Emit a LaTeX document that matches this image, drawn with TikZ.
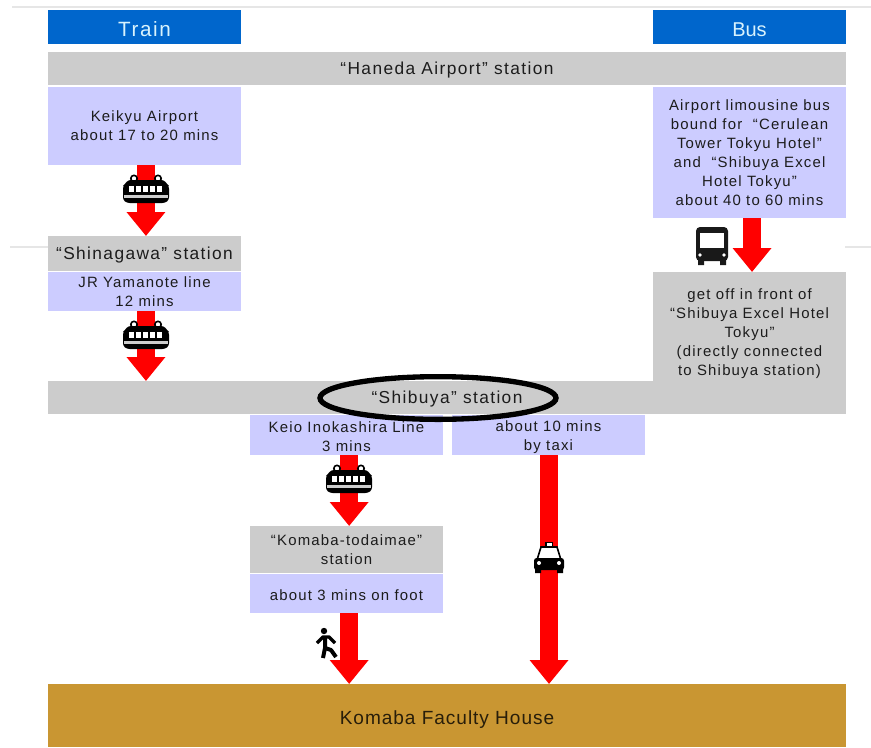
\documentclass[tikz,border=0pt]{standalone}
\usepackage{fontspec}
\setmainfont{Liberation Sans}
\newfontfamily\bodyfont[LetterSpace=8]{Liberation Sans}
\newfontfamily\plainfont[LetterSpace=0]{Liberation Sans}
\newfontfamily\stationfont[LetterSpace=8]{Liberation Sans}
\newfontfamily\housefont[LetterSpace=5]{Liberation Sans}
\usetikzlibrary{arrows.meta,shapes.geometric}
\definecolor{barblue}{HTML}{0066CC}
\definecolor{bargrey}{HTML}{CCCCCC}
\definecolor{lav}{HTML}{CCCCFF}
\definecolor{gold}{HTML}{C99632}
\definecolor{ink}{HTML}{1C1C1C}
\definecolor{rule}{HTML}{E6E6E6}
\newcommand{\dn}{\rule{0pt}{11pt}}
\tikzset{
  x=0.75pt,y=-0.75pt,
  box/.style={anchor=north west,inner sep=0pt,outer sep=0pt,align=center,text=ink},
  sm/.style={font=\bodyfont\fontsize{11.2}{14.25}\selectfont},
  st/.style={font=\stationfont\fontsize{13}{15}\selectfont,text height=11pt,text depth=2pt},
  head/.style={box,fill=barblue,text=white!85!cyan,minimum width=144.75pt,minimum height=25.5pt,text height=14pt,text depth=0pt},
  grey/.style={box,fill=bargrey},
  blue/.style={box,fill=lav,sm},
  wide/.style={minimum width=598.5pt},
  col/.style={minimum width=144.75pt},
  fat/.style={draw=red,line width=13.5pt,-{Triangle[length=18pt,width=28pt]}},
}
\begin{document}
\begin{tikzpicture}
\useasboundingbox (0,0) rectangle (871,747);
\draw[rule,line width=2.2pt] (12,7) -- (871,7);
\draw[rule,line width=1.5pt] (10,247) -- (48,247) (845,247) -- (871,247);
% boxes
\node[head,font=\bodyfont\fontsize{15.5}{18}\selectfont] (train) at (48,10) {Train};
\node[head,font=\plainfont\fontsize{15}{18}\selectfont] (bus) at (653,10) {Bus};
\node[grey,st,wide,minimum height=24.75pt] (haneda) at (48,52) {“Haneda Airport” station};
\node[blue,col,minimum height=58.5pt] (keikyu) at (48,87) {Keikyu Airport\\about 17 to 20 mins};
\node[grey,st,col,minimum height=26.25pt] (shinagawa) at (48,236) {“Shinagawa” station};
\node[blue,col,minimum height=29.25pt] (jr) at (48,272) {JR Yamanote line\\12 mins};
\node[blue,col,minimum height=98.25pt] (limo) at (653,87) {Airport limousine bus\\bound for \ “Cerulean\\Tower Tokyu Hotel”\\and \ “Shibuya Excel\\Hotel Tokyu”\\about 40 to 60 mins};
\node[grey,col,sm,minimum height=89.25pt] (getoff) at (653,272) {\dn get off in front of\\“Shibuya Excel Hotel\\Tokyu”\\(directly connected\\to Shibuya station)};
\node[grey,st,wide,minimum height=24.75pt] (shibuya) at (48,381) {“Shibuya” station};
\node[blue,col,minimum height=30pt] (keio) at (250,415) {\dn Keio Inokashira Line\\3 mins};
\node[blue,col,minimum height=30pt] (taxi) at (452,415) {\dn about 10 mins\\by taxi};
\node[grey,col,sm,minimum height=35.25pt] (komaba) at (250,526) {“Komaba-todaimae”\\station};
\node[blue,col,minimum height=29.25pt,text height=11pt,text depth=0pt] (foot) at (250,574) {about 3 mins on foot};
\node[box,fill=gold,wide,minimum height=47.25pt,font=\housefont\fontsize{14.3}{18}\selectfont,text=black!80!gold,text height=15pt,text depth=1pt] (house) at (48,684) {Komaba Faculty House};
% arrows
\draw[fat] ([xshift=1.1pt]keikyu.south) -- ([xshift=1.1pt]shinagawa.north);
\draw[fat] ([xshift=1.1pt]jr.south) -- ([xshift=1.1pt]jr.south |- shibuya.north);
\draw[fat] ([xshift=1.9pt]limo.south) -- ([xshift=1.9pt]getoff.north);
\draw[fat] ([xshift=2pt]keio.south) -- ([xshift=2pt]komaba.north);
\draw[fat] ([xshift=2pt]foot.south) -- ([xshift=2pt]foot.south |- house.north);
\draw[fat] ([xshift=0.4pt]taxi.south) -- ([xshift=0.4pt]taxi.south |- house.north);
% train icons
\foreach \cx/\cy in {146/189,146/335,349/479}{
\begin{scope}[shift={(\cx,\cy)}]
  \draw[black,fill=white,line width=1.2pt] (-12,-10.5) circle (3.2) (12,-10.5) circle (3.2);
  \fill[black,rounded corners=2pt] (-18,-9) -- (18,-9) -- (21,-5) -- (23,-3) -- (23,11) -- (19,14) -- (-19,14) -- (-23,11) -- (-23,-3) -- (-21,-5) -- cycle;
  \foreach \w in {-18,-11,-4,3,10}{\fill[white] (\w+0.7,-3.5) rectangle ++(5,6.5);}
  \fill[white!80!black] (-22,6) rectangle (22,9);
\end{scope}}
% bus icon
\begin{scope}[shift={(712,246)}]
  \fill[black!90,rounded corners=3pt] (-16,-19) rectangle (16,15);
  \fill[black!90] (-14,14) rectangle (-8,19) (8,14) rectangle (14,19);
  \fill[white] (-12,-13) rectangle (12,2);
  \fill[white] (-12,9) circle (1.8) (12,9) circle (1.8);
\end{scope}
% taxi icon
\begin{scope}[shift={(549,558)}]
  \fill[black] (-4,-16) rectangle (4,-11);
  \fill[white] (-2.5,-15) rectangle (2.5,-12);
  \draw[black,fill=white,line width=1.2pt] (-12,2) -- (-8,-11) -- (8,-11) -- (12,2) -- cycle;
  \fill[black,rounded corners=2pt] (-15,0) rectangle (15,12);
  \fill[black] (-14,10) rectangle (-8,15) (8,10) rectangle (14,15);
  \fill[white] (-10,5) circle (2) (10,5) circle (2);
\end{scope}
% walker icon
\fill[black] (324,631) circle (3.2);
\draw[black,line width=2.6pt,line join=round] (317,643) -- (323,637) -- (329,637) -- (335,643);
\draw[black,line width=3pt,line join=round] (325,637) -- (325,648) -- (323,658) (325,648) -- (331,650) -- (336,657);
% ellipse
\node[ellipse,draw=black,line width=4pt,minimum width=177pt,minimum height=32pt,inner sep=0pt] (ring) at (438,398) {};
\end{tikzpicture}
\end{document}
